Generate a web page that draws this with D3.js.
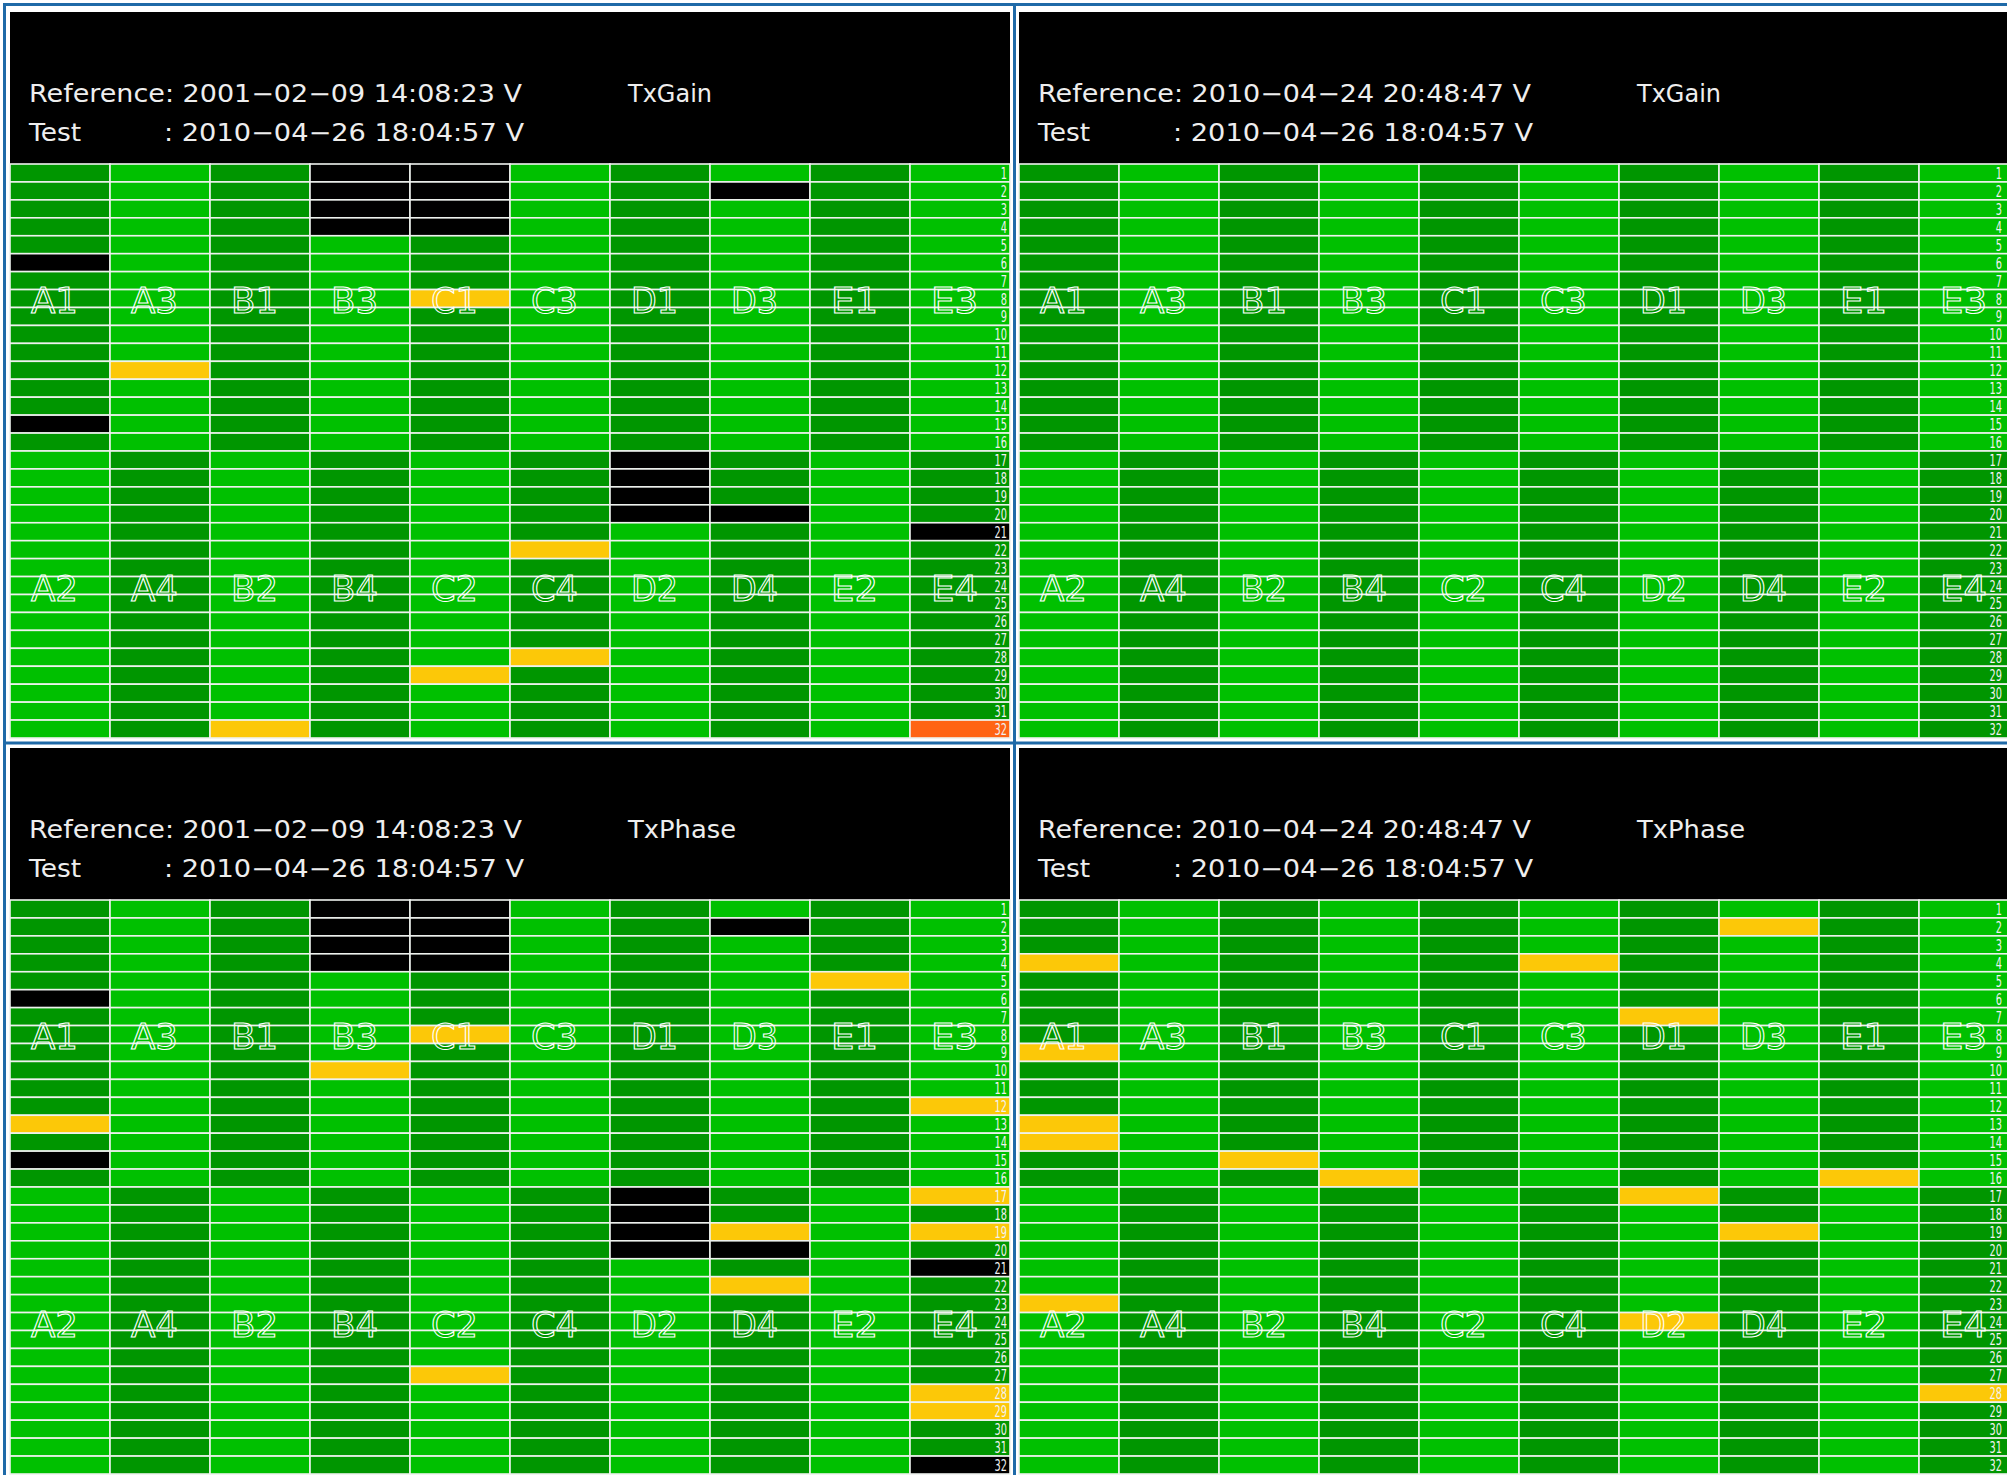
<!DOCTYPE html>
<html>
<head>
<meta charset="utf-8">
<script src="https://cdn.jsdelivr.net/npm/d3@7"></script>
<style>
html,body{margin:0;padding:0;background:#ffffff;overflow:hidden}
svg{display:block}
</style>
</head>
<body>
<svg id="chart" width="2007" height="1475"></svg>
<script>
// ---------- data ----------
const upperModules = ["A1","A3","B1","B3","C1","C3","D1","D3","E1","E3"];
const lowerModules = ["A2","A4","B2","B4","C2","C4","D2","D4","E2","E4"];
const channels = [1,2,3,4,5,6,7,8,9,10,11,12,13,14,15,16,17,18,19,20,21,22,23,24,25,26,27,28,29,30,31,32];
const parameters = ["TxGain","TxGain","TxPhase","TxPhase"];
const referenceTimes = ["2001\u221202\u221209 14:08:23 V","2010\u221204\u221224 20:48:47 V","2001\u221202\u221209 14:08:23 V","2010\u221204\u221224 20:48:47 V"];
const testTimes = ["2010\u221204\u221226 18:04:57 V","2010\u221204\u221226 18:04:57 V","2010\u221204\u221226 18:04:57 V","2010\u221204\u221226 18:04:57 V"];
// flagged cells: [column index, channel, status]
const flagsGainRef2001 = [
  [0,6,"missing"],[0,15,"missing"],[1,12,"warn"],
  [3,1,"missing"],[3,2,"missing"],[3,3,"missing"],[3,4,"missing"],
  [4,1,"missing"],[4,2,"missing"],[4,3,"missing"],[4,4,"missing"],[4,8,"warn"],
  [7,2,"missing"],
  [6,17,"missing"],[6,18,"missing"],[6,19,"missing"],[6,20,"missing"],[7,20,"missing"],
  [9,21,"missing"],[5,22,"warn"],[5,28,"warn"],[4,29,"warn"],[2,32,"warn"],[9,32,"error"]
];
const flagsGainRef2010 = [];
const flagsPhaseRef2001 = [
  [0,6,"missing"],[0,13,"warn"],[0,15,"missing"],
  [3,1,"missing"],[3,2,"missing"],[3,3,"missing"],[3,4,"missing"],[3,10,"warn"],
  [4,1,"missing"],[4,2,"missing"],[4,3,"missing"],[4,4,"missing"],[4,8,"warn"],
  [7,2,"missing"],[8,5,"warn"],[9,12,"warn"],
  [6,17,"missing"],[6,18,"missing"],[6,19,"missing"],[6,20,"missing"],
  [7,19,"warn"],[7,20,"missing"],[7,22,"warn"],
  [9,17,"warn"],[9,19,"warn"],[9,21,"missing"],[4,27,"warn"],[9,28,"warn"],[9,29,"warn"],[9,32,"missing"]
];
const flagsPhaseRef2010 = [
  [0,4,"warn"],[5,4,"warn"],[7,2,"warn"],[6,7,"warn"],[0,9,"warn"],
  [0,13,"warn"],[0,14,"warn"],[2,15,"warn"],[3,16,"warn"],[8,16,"warn"],
  [6,17,"warn"],[7,19,"warn"],[0,23,"warn"],[6,24,"warn"],[9,28,"warn"]
];
const panelFlags = [flagsGainRef2001, flagsGainRef2010, flagsPhaseRef2001, flagsPhaseRef2010];

// ---------- drawing ----------
const svg = d3.select("#chart");
const statusColor = d3.scaleOrdinal()
  .domain(["okDark","okLight","warn","error","missing"])
  .range(["#009600","#00c000","#fcc808","#ff6414","#000000"]);

const panels = [
  {x:10,   y:12,  numRight:1007},
  {x:1019, y:12,  numRight:2002},
  {x:10,   y:748, numRight:1007},
  {x:1019, y:748, numRight:2002}
];
const headerH = 152, gridW = 1000, gridH = 574;

// blue frame
const frame = svg.append("g").attr("fill","#1f6aa8");
frame.append("rect").attr("x",3).attr("y",3).attr("width",2004).attr("height",3);
frame.append("rect").attr("x",3).attr("y",3).attr("width",3).attr("height",1472);
frame.append("rect").attr("x",1013).attr("y",3).attr("width",3).attr("height",1472);
frame.append("rect").attr("x",3).attr("y",741.5).attr("width",2004).attr("height",3);

panels.forEach((p, i) => {
  const g = svg.append("g");
  const gridTop = p.y + headerH;
  const x = d3.scaleBand().domain(d3.range(upperModules.length)).range([p.x, p.x + gridW]);
  const y = d3.scaleBand().domain(channels).range([gridTop, gridTop + gridH]);

  // header
  g.append("rect").attr("x",p.x).attr("y",p.y).attr("width",gridW).attr("height",headerH + 2).attr("fill","#000");
  const ht = g.append("g").attr("fill","#eeeeee").style("font-family","'DejaVu Sans'").style("font-size","24px");
  ht.append("text").attr("x",p.x + 19).attr("y",p.y + 90)
    .attr("textLength",493).attr("lengthAdjust","spacingAndGlyphs")
    .text("Reference: " + referenceTimes[i]);
  ht.append("text").attr("x",p.x + 19).attr("y",p.y + 129)
    .attr("textLength",52).attr("lengthAdjust","spacingAndGlyphs").text("Test");
  ht.append("text").attr("x",p.x + 154).attr("y",p.y + 129)
    .attr("textLength",360).attr("lengthAdjust","spacingAndGlyphs")
    .text(": " + testTimes[i]);
  ht.append("text").attr("x",p.x + 618).attr("y",p.y + 90)
    .attr("textLength", parameters[i] === "TxGain" ? 84 : 108).attr("lengthAdjust","spacingAndGlyphs")
    .text(parameters[i]);

  // cells
  const flagMap = new Map(panelFlags[i].map(f => [f[0] + "_" + f[1], f[2]]));
  const cells = [];
  d3.range(upperModules.length).forEach(c => channels.forEach(ch => {
    const upper = ch <= 16;
    const base = ((c % 2 === 0) === upper) ? "okDark" : "okLight";
    cells.push({c, ch, status: flagMap.get(c + "_" + ch) || base});
  }));
  g.append("g").selectAll("rect").data(cells).join("rect")
    .attr("x", d => x(d.c))
    .attr("y", d => y(d.ch))
    .attr("width", x.bandwidth())
    .attr("height", y.bandwidth())
    .attr("fill", d => statusColor(d.status))
    .attr("stroke","#eef2ee").attr("stroke-width",1.6);

  // module labels
  const lab = g.append("g").attr("fill","none").attr("stroke","#ffffff").attr("stroke-width",1)
    .style("font-family","'DejaVu Sans Condensed'").style("font-size","35px");
  lab.selectAll("text.up").data(upperModules).join("text").attr("class","up")
    .attr("x", (d, k) => x(k) + 21)
    .attr("y", y(8) + y.bandwidth() / 2 + 14)
    .attr("textLength",47).attr("lengthAdjust","spacingAndGlyphs")
    .text(d => d);
  lab.selectAll("text.low").data(lowerModules).join("text").attr("class","low")
    .attr("x", (d, k) => x(k) + 21)
    .attr("y", y(24) + y.bandwidth() / 2 + 15)
    .attr("textLength",47).attr("lengthAdjust","spacingAndGlyphs")
    .text(d => d);

  // channel numbers
  g.append("g").attr("fill","#f2f2f2").style("font-family","'DejaVu Sans Condensed'").style("font-size","15.5px")
    .selectAll("text").data(channels).join("text")
    .attr("text-anchor","end")
    .attr("transform", d => `translate(${p.numRight},${y(d) + y.bandwidth() - 3}) scale(0.7,1)`)
    .text(d => d);
});
</script>
</body>
</html>
